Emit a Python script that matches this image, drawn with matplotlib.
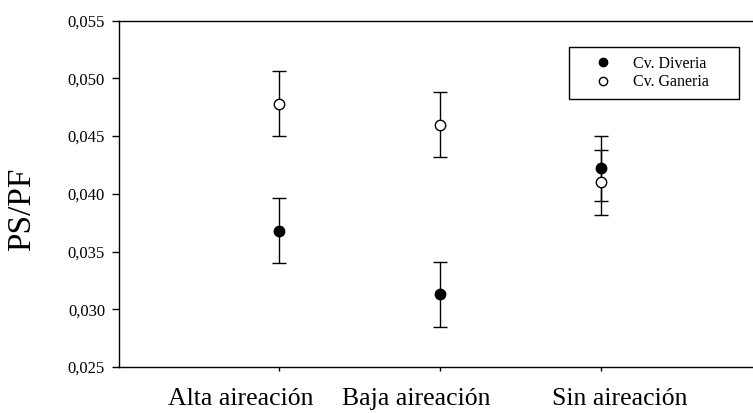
import numpy as np
from matplotlib import pyplot as plt
from matplotlib import transforms
from matplotlib.patches import Rectangle

categories = ["Alta aireación", "Baja aireación", "Sin aireación"]
diveria_mean = [0.0368, 0.0313, 0.0422]
diveria_err = [0.0028, 0.0028, 0.0028]
ganeria_mean = [0.0478, 0.0460, 0.0410]
ganeria_err = [0.0028, 0.0028, 0.0028]
yticks = [0.025, 0.030, 0.035, 0.040, 0.045, 0.050, 0.055]

# label shifts (px) relative to the ticks, as in the original figure
label_shift = [-38, -24, 19]

plt.rcParams['font.family'] = ['Liberation Serif', 'DejaVu Serif']

fig = plt.figure(figsize=(7.53, 4.13), dpi=100)
ax = fig.add_axes([119 / 753, 1 - 367 / 413, 634 / 753, (367 - 20.7) / 413])

x = np.arange(1, len(categories) + 1)
ax.errorbar(x, diveria_mean, yerr=diveria_err, fmt='o', color='black',
            mfc='black', mec='black', ms=7.5, capsize=4.7, elinewidth=1,
            capthick=1, label='Cv. Diveria', zorder=3)
ax.errorbar(x, ganeria_mean, yerr=ganeria_err, fmt='o', color='black',
            mfc='white', mec='black', ms=7.5, capsize=4.7, elinewidth=1,
            capthick=1, label='Cv. Ganeria', zorder=3)

ax.set_xlim(0.006, 3.944)
ax.set_ylim(0.025, 0.055)
ax.set_xticks(x)
ax.set_xticklabels([])
base = transforms.blended_transform_factory(ax.transData, ax.transAxes)
for xi, name, dx in zip(x, categories, label_shift):
    tr = base + transforms.ScaledTranslation(dx / 100, -0.21, fig.dpi_scale_trans)
    ax.text(xi, 0, name, transform=tr, ha='center', va='top', fontsize=18.5)

ax.set_yticks(yticks)
ax.set_yticklabels([f"{v:.3f}".replace('.', ',') for v in yticks], fontsize=12)
ax.tick_params(axis='y', direction='out', length=5, width=1, pad=5)
ax.tick_params(axis='x', direction='out', length=3, width=1)
ax.set_ylabel("PS/PF", fontsize=24)
ax.yaxis.set_label_coords((37 - 119) / 634, 1 - (209 - 20.7) / 346.3)

ax.spines['right'].set_visible(False)
for s in ['left', 'top', 'bottom']:
    ax.spines[s].set_linewidth(1)

handles, labels = ax.get_legend_handles_labels()
handles = [h[0] for h in handles]
leg = ax.legend(handles, labels, loc='center',
                bbox_to_anchor=(651 / 753, 1 - 73 / 413),
                bbox_transform=fig.transFigure, fontsize=11.5, frameon=False,
                handletextpad=1.3, labelspacing=0.15, borderaxespad=0,
                borderpad=0, handlelength=1.2)
for h in leg.legend_handles:
    h.set_markersize(6)
fig.patches.append(Rectangle((569 / 753, 1 - 99 / 413), 170 / 753, 52 / 413,
                             transform=fig.transFigure, fill=False,
                             edgecolor='black', linewidth=1))

plt.savefig("out.png", dpi=100)
plt.close()
